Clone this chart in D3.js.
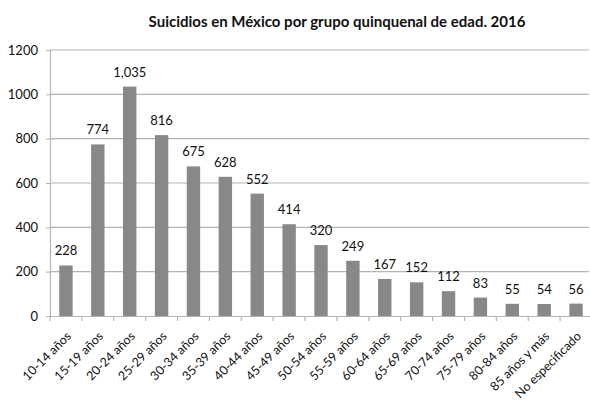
<!DOCTYPE html>
<html>
<head>
<meta charset="utf-8">
<script src="https://cdn.jsdelivr.net/npm/d3@7"></script>
<style>
  body { margin: 0; background: #fff; }
  svg { display: block; }
  text { font-family: Lato, "Open Sans", sans-serif; fill: #111; }
</style>
</head>
<body>
<svg id="chart" width="590" height="403"></svg>
<script>
const categories = ["10-14 años","15-19 años","20-24 años","25-29 años","30-34 años","35-39 años","40-44 años","45-49 años","50-54 años","55-59 años","60-64 años","65-69 años","70-74 años","75-79 años","80-84 años","85 años y más","No especificado"];
const values = [228, 774, 1035, 816, 675, 628, 552, 414, 320, 249, 167, 152, 112, 83, 55, 54, 56];
const valueLabels = ["228","774","1,035","816","675","628","552","414","320","249","167","152","112","83","55","54","56"];
const yTicks = [0, 200, 400, 600, 800, 1000, 1200];
const title = "Suicidios en México por grupo quinquenal de edad. 2016";

(function () {
const svg = d3.select("#chart");
const mLeft = 50, mRight = 592, mTop = 50, mBottom = 316;

const x = d3.scaleBand().domain(categories).range([mLeft, mRight]).padding(0);
const y = d3.scaleLinear().domain([0, 1200]).range([mBottom, mTop]);
const barW = x.bandwidth() * 0.42;

// gridlines
svg.append("g").selectAll("line").data(yTicks.filter(d => d > 0)).join("line")
  .attr("x1", mLeft).attr("x2", 589)
  .attr("y1", d => y(d)).attr("y2", d => y(d))
  .attr("stroke", "#b4b4b4").attr("stroke-width", 1.2);

// y axis
const yAxis = svg.append("g").attr("transform", `translate(${mLeft},0)`)
  .call(d3.axisLeft(y).tickValues(yTicks).tickSize(4).tickPadding(8).tickFormat(d3.format("d")));
yAxis.select(".domain").attr("stroke", "#b4b4b4").attr("stroke-width", 1.2);
yAxis.selectAll(".tick line").attr("stroke", "#b4b4b4");
yAxis.selectAll("text").style("font-size", "13px").attr("fill", "#111");

// bars
svg.append("g").selectAll("rect").data(values).join("rect")
  .attr("x", (d, i) => x(categories[i]) + (x.bandwidth() - barW) / 2)
  .attr("width", barW)
  .attr("y", d => y(d))
  .attr("height", d => y(0) - y(d))
  .attr("fill", "#888888");

// x axis
const xAxis = svg.append("g").attr("transform", `translate(0,${mBottom})`)
  .call(d3.axisBottom(x).tickSize(0).tickFormat(d => d));
xAxis.select(".domain").attr("stroke", "#b4b4b4").attr("stroke-width", 1.2);
const bounds = categories.map(c => x(c)).concat([x(categories[categories.length-1]) + x.bandwidth()]);
xAxis.selectAll(".btick").data(bounds).join("line").attr("class", "btick")
  .attr("x1", d => d).attr("x2", d => d).attr("y1", 0).attr("y2", 5)
  .attr("stroke", "#b4b4b4").attr("stroke-width", 1.2);
xAxis.selectAll(".tick text")
  .style("font-size", "12.5px").attr("fill", "#111")
  .attr("text-anchor", "end")
  .attr("transform", "translate(6,21) rotate(-45)")
  .attr("dy", "0").attr("y", 0).attr("x", 0);

// value labels
svg.append("g").selectAll("text").data(values).join("text")
  .attr("x", (d, i) => x(categories[i]) + x.bandwidth() / 2)
  .attr("y", d => y(d) - 10)
  .attr("text-anchor", "middle")
  .style("font-size", "13px")
  .text((d, i) => valueLabels[i]);

// title
svg.append("text").attr("x", 337).attr("y", 27).attr("text-anchor", "middle")
  .style("font-size", "15px").style("font-weight", "bold").text(title);
})();
</script>
</body>
</html>
